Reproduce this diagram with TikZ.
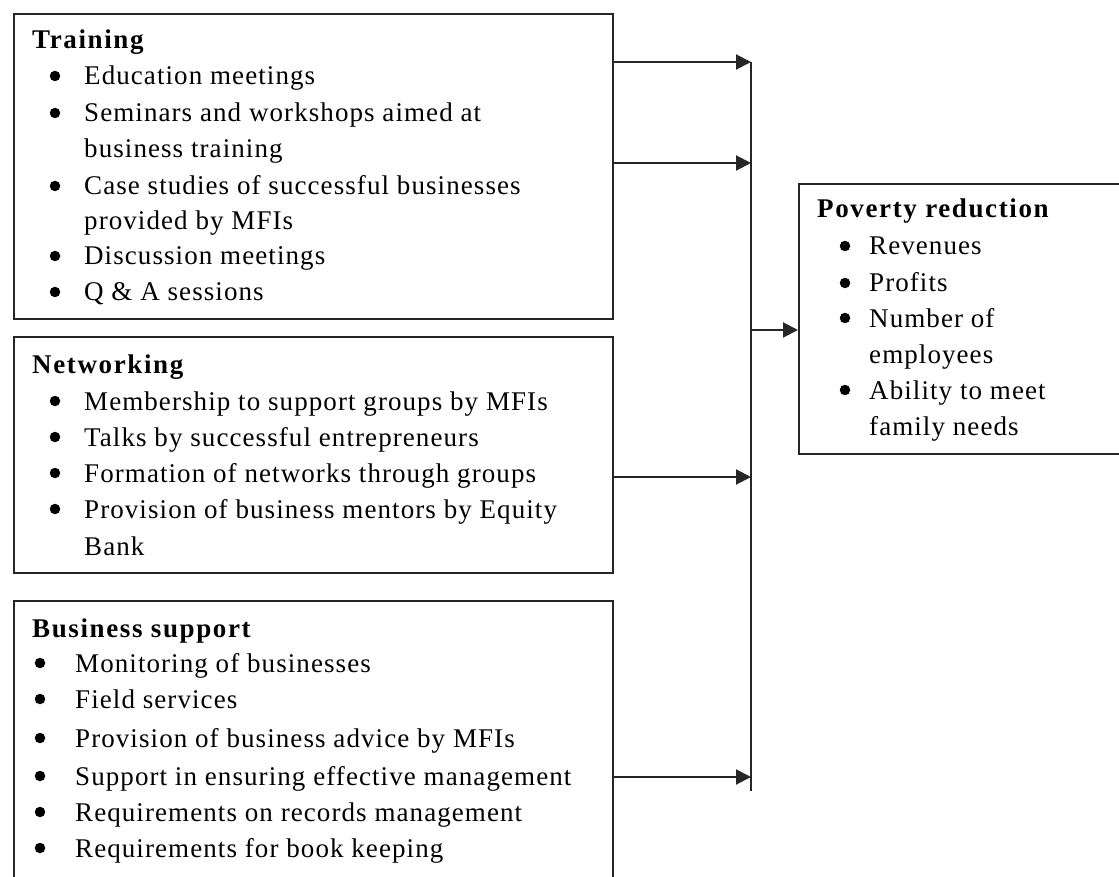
\documentclass[tikz,border=0pt]{standalone}
\usepackage{fontspec}
\setmainfont{Liberation Serif}[LetterSpace=4]
\usetikzlibrary{arrows.meta}
\begin{document}
\begin{tikzpicture}[x=1pt,y=-1pt,
  box/.style={draw=black!85, line width=2pt, rectangle, inner sep=0pt, anchor=north west},
  txt/.style={anchor=base west, inner sep=0pt, font=\fontsize{27}{30}\selectfont},
  head/.style={txt, font=\fontsize{27}{30}\selectfont\bfseries\addfontfeature{LetterSpace=6}},
  dot/.style={circle, fill=black, inner sep=0pt, minimum size=10.5pt},
  bar/.style={draw=black!85, line width=2pt},
  link/.style={draw=black!85, line width=2pt, -{Triangle[length=15pt,width=15pt]}}]

\newcommand\bitem[5]{% name, bullet x, text x, baseline, text
  \node[dot] (#1-dot) at (#2,#4-9) {};
  \node[txt] (#1) at (#3,#4) {#5};}

\useasboundingbox (0,0) rectangle (1119,877);
\clip (0,0) rectangle (1119,877);

% the four boxes (the lower and right ones run past the page edge)
\node[box, minimum width=599pt, minimum height=305pt] (train) at (13,13) {};
\node[box, minimum width=599pt, minimum height=236pt] (net) at (13,336) {};
\node[box, minimum width=599pt, minimum height=300pt] (bus) at (13,600) {};
\node[box, minimum width=340pt, minimum height=270pt] (pov) at (798,183) {};

% Training
\node[head] (train-h) at (32,49) {Training};
\bitem{t1}{55}{84}{85}{Education meetings}
\bitem{t2}{55}{84}{122}{Seminars and workshops aimed at}
\node[txt] (t2b) at (84,158) {business training};
\bitem{t3}{55}{84}{195}{Case studies of successful businesses}
\node[txt] (t3b) at (84,230) {provided by MFIs};
\bitem{t4}{55}{84}{265}{Discussion meetings}
\bitem{t5}{55}{84}{301}{Q \& A sessions}

% Networking
\node[head] (net-h) at (32,373) {Networking};
\bitem{n1}{55}{84}{410}{Membership to support groups by MFIs}
\bitem{n2}{55}{84}{446}{Talks by successful entrepreneurs}
\bitem{n3}{55}{84}{482}{Formation of networks through groups}
\bitem{n4}{55}{84}{518}{Provision of business mentors by Equity}
\node[txt] (n4b) at (84,555) {Bank};

% Business support
\node[head] (bus-h) at (32,637) {Business support};
\bitem{b1}{40}{75}{672}{Monitoring of businesses}
\bitem{b2}{40}{75}{708}{Field services}
\bitem{b3}{40}{75}{747}{Provision of business advice by MFIs}
\bitem{b4}{40}{75}{785}{Support in ensuring effective management}
\bitem{b5}{40}{75}{821}{Requirements on records management}
\bitem{b6}{40}{75}{857}{Requirements for book keeping}

% Poverty reduction
\node[head] (pov-h) at (817,218) {Poverty reduction};
\bitem{p1}{845}{869}{255}{Revenues}
\bitem{p2}{845}{869}{292}{Profits}
\bitem{p3}{845}{869}{327}{Number of}
\node[txt] (p3b) at (869,363) {employees};
\bitem{p4}{845}{869}{399}{Ability to meet}
\node[txt] (p4b) at (869,435) {family needs};

% collecting bar and connectors
\coordinate (bartop) at (751,62);
\coordinate (barbot) at (751,791);
\coordinate (j1) at (751,62);
\coordinate (j2) at (751,163);
\coordinate (j3) at (751,477);
\coordinate (j4) at (751,777);
\coordinate (jout) at (751,330);
\draw[bar] (bartop) -- (barbot);
\draw[link] (train.east |- j1) -- (j1);
\draw[link] (train.east |- j2) -- (j2);
\draw[link] (net.east |- j3) -- (j3);
\draw[link] (bus.east |- j4) -- (j4);
\draw[link] (jout) -- (pov.west |- jout);
\end{tikzpicture}
\end{document}
